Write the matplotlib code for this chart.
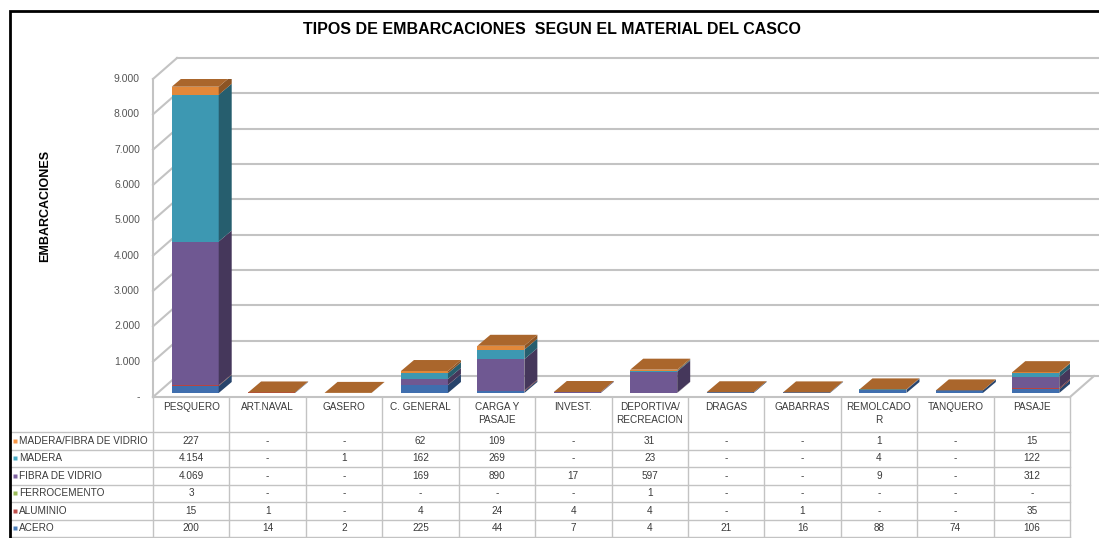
import matplotlib
matplotlib.use("Agg")
import matplotlib.pyplot as plt
from matplotlib.colors import to_rgb
from matplotlib.patches import Polygon, Rectangle


CATEGORIES = ["PESQUERO", "ART.NAVAL", "GASERO", "C. GENERAL", "CARGA Y\nPASAJE",
              "INVEST.", "DEPORTIVA/\nRECREACION", "DRAGAS", "GABARRAS",
              "REMOLCADO\nR", "TANQUERO", "PASAJE"]

# stack order, bottom to top
SERIES = ["ACERO", "ALUMINIO", "FERROCEMENTO", "FIBRA DE VIDRIO", "MADERA",
          "MADERA/FIBRA DE VIDRIO"]
ACERO = [200, 14, 2, 225, 44, 7, 4, 21, 16, 88, 74, 106]
ALUMINIO = [15, 1, 0, 4, 24, 4, 4, 0, 1, 0, 0, 35]
FERROCEMENTO = [3, 0, 0, 0, 0, 0, 1, 0, 0, 0, 0, 0]
FIBRA_VIDRIO = [4069, 0, 0, 169, 890, 17, 597, 0, 0, 9, 0, 312]
MADERA = [4154, 0, 1, 162, 269, 0, 23, 0, 0, 4, 0, 122]
MADERA_FIBRA = [227, 0, 0, 62, 109, 0, 31, 0, 0, 1, 0, 15]

Y_TICKS = [0, 1000, 2000, 3000, 4000, 5000, 6000, 7000, 8000, 9000]

KEY_COLORS = ["#4F81BD", "#C0504D", "#9BBB59", "#8064A2", "#4BACC6", "#F79646"]
FRONT_COLORS = ["#3F6EAE", "#B84440", "#8EB04E", "#6F5892", "#3D98B2", "#E2883A"]
GRID = "#C3C3C3"
TXT = "#3A3A3A"

W, H = 1099, 538

plt.rcParams["font.family"] = ["Liberation Sans Narrow", "Liberation Sans", "DejaVu Sans"]


def shade(color, f):
    r, g, b = to_rgb(color)
    return (r * f, g * f, b * f)


def fmt_val(v):
    return "-" if v == 0 else f"{v:,}".replace(",", ".")


def main() -> None:
    values = [ACERO, ALUMINIO, FERROCEMENTO, FIBRA_VIDRIO, MADERA, MADERA_FIBRA]
    n = len(CATEGORIES)

    fig = plt.figure(figsize=(W / 100, H / 100), dpi=100)
    fig.patch.set_facecolor("white")

    ax = fig.add_axes([153 / W, (H - 397) / H, 917 / W, 318 / H])
    ax.set_xlim(-0.5, n - 0.5)
    ax.set_ylim(0, 9000)
    ax.axis("off")

    ux = n / 917.0
    uy = 9000 / 318.0
    wall_dx, wall_dy = 24 * ux, 21 * uy
    bar_dx, bar_dy = 13 * ux, 11 * uy
    base_dx, base_dy = 4 * ux, 4 * uy
    bar_w = 47 * ux

    # walls / floor
    x0 = -0.5
    for v in Y_TICKS:
        ax.plot([x0, x0 + wall_dx], [v, v + wall_dy], color=GRID, lw=1.5, clip_on=False)
        ax.plot([x0 + wall_dx, n + 0.3], [v + wall_dy, v + wall_dy], color=GRID, lw=1.5,
                clip_on=False)
        lab = "-" if v == 0 else f"{v:,}".replace(",", ".")
        ax.text(x0 - 13 * ux, v, lab, ha="right", va="center", fontsize=7.5, color="#555555")
    ax.plot([x0, x0], [0, 9000], color=GRID, lw=1.5, clip_on=False)
    ax.plot([x0, n - 0.5], [0, 0], color=GRID, lw=1.5, clip_on=False)
    ax.plot([n - 0.5, n - 0.5 + wall_dx], [0, wall_dy], color=GRID, lw=1.5, clip_on=False)

    # stacked 3d bars
    top_color = shade(FRONT_COLORS[-1], 0.75)
    for i in range(n):
        xl = i - bar_w / 2 + base_dx
        xr = xl + bar_w
        cum = base_dy
        for j, series in enumerate(values):
            h = series[i]
            if h == 0:
                continue
            ax.add_patch(Rectangle((xl, cum), bar_w, h, facecolor=FRONT_COLORS[j],
                                   edgecolor="none", zorder=3))
            ax.add_patch(Polygon([(xr, cum), (xr + bar_dx, cum + bar_dy),
                                  (xr + bar_dx, cum + h + bar_dy), (xr, cum + h)],
                                 closed=True, facecolor=shade(FRONT_COLORS[j], 0.62),
                                 edgecolor="none", zorder=3))
            cum += h
        ax.add_patch(Polygon([(xl, cum), (xr, cum), (xr + bar_dx, cum + bar_dy),
                              (xl + bar_dx, cum + bar_dy)],
                             closed=True, facecolor=top_color, edgecolor="none", zorder=4))

    # data table
    xmin = -0.5 - 143 * ux
    tax = fig.add_axes([10 / W, 1 / H, 1060 / W, 140 / H])
    tax.set_xlim(xmin, n - 0.5)
    tax.set_ylim(8, 0)
    tax.axis("off")
    for k in range(n + 1):
        tax.plot([k - 0.5, k - 0.5], [0, 8], color=GRID, lw=1.0, clip_on=False)
    for r in range(2, 9):
        tax.plot([xmin, n - 0.5], [r, r], color=GRID, lw=1.0, clip_on=False)

    for i, cat in enumerate(CATEGORIES):
        tax.text(i, 0.3, cat, ha="center", va="top", fontsize=7.2, color=TXT, linespacing=1.3)

    for r, j in enumerate(reversed(range(len(SERIES)))):
        y = 2 + r + 0.5
        tax.plot([xmin + 0.07], [y], marker="s", ms=3, color=KEY_COLORS[j], mec="none")
        tax.text(xmin + 0.12, y, SERIES[j], ha="left", va="center", fontsize=7.2, color=TXT)
        for i in range(n):
            tax.text(i, y, fmt_val(values[j][i]), ha="center", va="center", fontsize=7.2,
                     color=TXT)

    fig.text(552 / W, 1 - 30 / H, "TIPOS DE EMBARCACIONES  SEGUN EL MATERIAL DEL CASCO",
             ha="center", va="center", fontsize=11.5, fontweight="bold", color="black")
    fig.text(45 / W, 1 - 206 / H, "EMBARCACIONES", rotation=90, ha="center", va="center",
             fontsize=9, fontweight="bold", color="black")

    fig.add_artist(Rectangle((10 / W, -0.05), 1.2, 1 - 11 / H + 0.05, transform=fig.transFigure,
                             fill=False, edgecolor="black", lw=2))

    fig.savefig("out.png", dpi=100)
    plt.close(fig)


if __name__ == "__main__":
    main()
